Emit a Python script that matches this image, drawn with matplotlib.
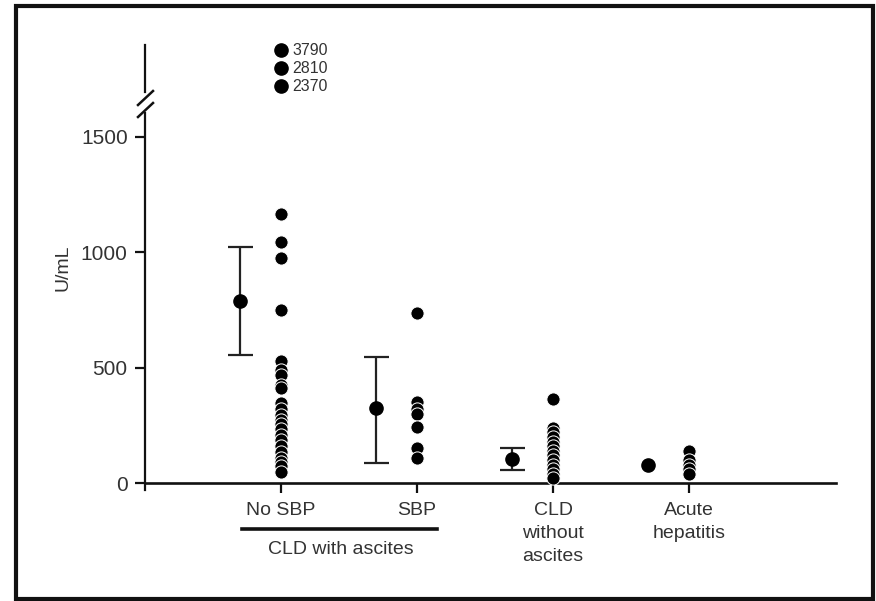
import matplotlib
matplotlib.use('Agg')
import matplotlib.pyplot as plt
from matplotlib.lines import Line2D
from matplotlib.patches import Rectangle
from matplotlib.transforms import blended_transform_factory

plt.rcParams['font.family'] = ['Liberation Sans', 'DejaVu Sans']

# categories and tick labels
groups = ['No SBP', 'SBP', 'CLD\nwithout\nascites', 'Acute\nhepatitis']
group_pos = [1, 2, 3, 4]

# individual values (U/mL)
no_sbp = [1165, 1045, 975, 750, 530, 490, 470, 425, 410, 345, 320, 295, 275,
          255, 235, 210, 185, 160, 135, 110, 90, 75, 50]
sbp = [737, 350, 320, 300, 243, 150, 110]
cld_no_ascites = [364, 238, 220, 200, 180, 160, 140, 120, 100, 80, 60, 40, 22]
acute = [139, 100, 80, 60, 38]
series = [no_sbp, sbp, cld_no_ascites, acute]

# values above the axis break (shown stacked, labelled)
outliers = [3790, 2810, 2370]

# mean with range bars, drawn left of each column
means = [789, 325, 104, 78]
bar_low = [555, 87, 56, 78]
bar_high = [1023, 546, 152, 78]
mean_shift = -0.3

text_col = '#333333'
ink = '#111111'

fig = plt.figure(figsize=(8.76, 6.01), dpi=100)
W, H = 876, 601

def fx(px):
    return px / W

def fy(py):
    return 1 - py / H

# lower (main) panel
ax = fig.add_axes([fx(145), fy(490), fx(836) - fx(145), fy(113) - fy(490)])
ax.set_xlim(0, 5.08)
ax.set_ylim(-30, 1604)

for x, vals in zip(group_pos, series):
    for v in sorted(vals, reverse=True):
        ax.plot(x, v, 'o', ms=9.5, color='black', mec='white', mew=0.7,
                zorder=3, clip_on=False)

xm = [p + mean_shift for p in group_pos]
for x, m, lo, hi in zip(xm, means, bar_low, bar_high):
    if hi > lo:  # no visible bar when the range collapses onto the mean
        ax.errorbar(x, m, yerr=[[m - lo], [hi - m]], fmt='none',
                    ecolor='#222222', elinewidth=1.6, capsize=9,
                    capthick=1.6, zorder=2)
ax.plot(xm, means, 'o', ms=9.5, color='black', linestyle='none', zorder=4)

for s in ['top', 'right']:
    ax.spines[s].set_visible(False)
ax.spines['bottom'].set_position(('data', 0))
ax.spines['bottom'].set_linewidth(1.9)
ax.spines['left'].set_linewidth(1.6)
ax.spines['bottom'].set_color(ink)
ax.spines['left'].set_color(ink)

ax.set_yticks([0, 500, 1000, 1500])
ax.set_xticks(group_pos)
ax.set_xticklabels(groups, linespacing=1.45)
ax.tick_params(axis='both', direction='out', length=7.5, width=1.6, color=ink,
               labelsize=14, labelcolor=text_col)
ax.tick_params(axis='x', pad=6)
ax.tick_params(axis='y', pad=5, labelsize=15)
ax.set_ylabel('U/mL', fontsize=14, color=text_col)
ax.yaxis.set_label_coords(-0.107, 0.59)

# bracket under the two ascites groups
tr = blended_transform_factory(ax.transData, fig.transFigure)
ax.add_line(Line2D([0.715, 2.146], [fy(529), fy(529)], transform=tr,
                   color=ink, lw=2.6, clip_on=False))
ax.text(1.44, fy(549), 'CLD with ascites', transform=tr, ha='center',
        va='center', fontsize=14, color=text_col)

# upper panel for the values above the break
ax_up = fig.add_axes([fx(145), fy(92), fx(836) - fx(145), fy(45) - fy(92)])
ax_up.set_xlim(0, 5.08)
ax_up.set_ylim(-0.33, 2.3)
ax_up.patch.set_visible(False)
for s in ['top', 'right', 'bottom']:
    ax_up.spines[s].set_visible(False)
ax_up.spines['left'].set_linewidth(1.6)
ax_up.spines['left'].set_color(ink)
ax_up.set_xticks([])
ax_up.set_yticks([])
for i, v in enumerate(outliers):
    ypos = len(outliers) - 1 - i
    ax_up.plot(group_pos[0], ypos, 'o', ms=9.5, color='black', clip_on=False)
    ax_up.text(group_pos[0] + 0.085, ypos, str(v), va='center', ha='left',
               fontsize=11.5, color=text_col)

# axis break marks
for y0 in (105, 117):
    fig.add_artist(Line2D([fx(138), fx(153)], [fy(y0), fy(y0 - 14)],
                          transform=fig.transFigure, color=ink, lw=1.8))

# outer frame
fig.add_artist(Rectangle((fx(16), fy(599)), fx(873) - fx(16), fy(6) - fy(599),
                         transform=fig.transFigure, fill=False,
                         edgecolor='#111111', lw=3))

fig.savefig('out.png', dpi=100)
